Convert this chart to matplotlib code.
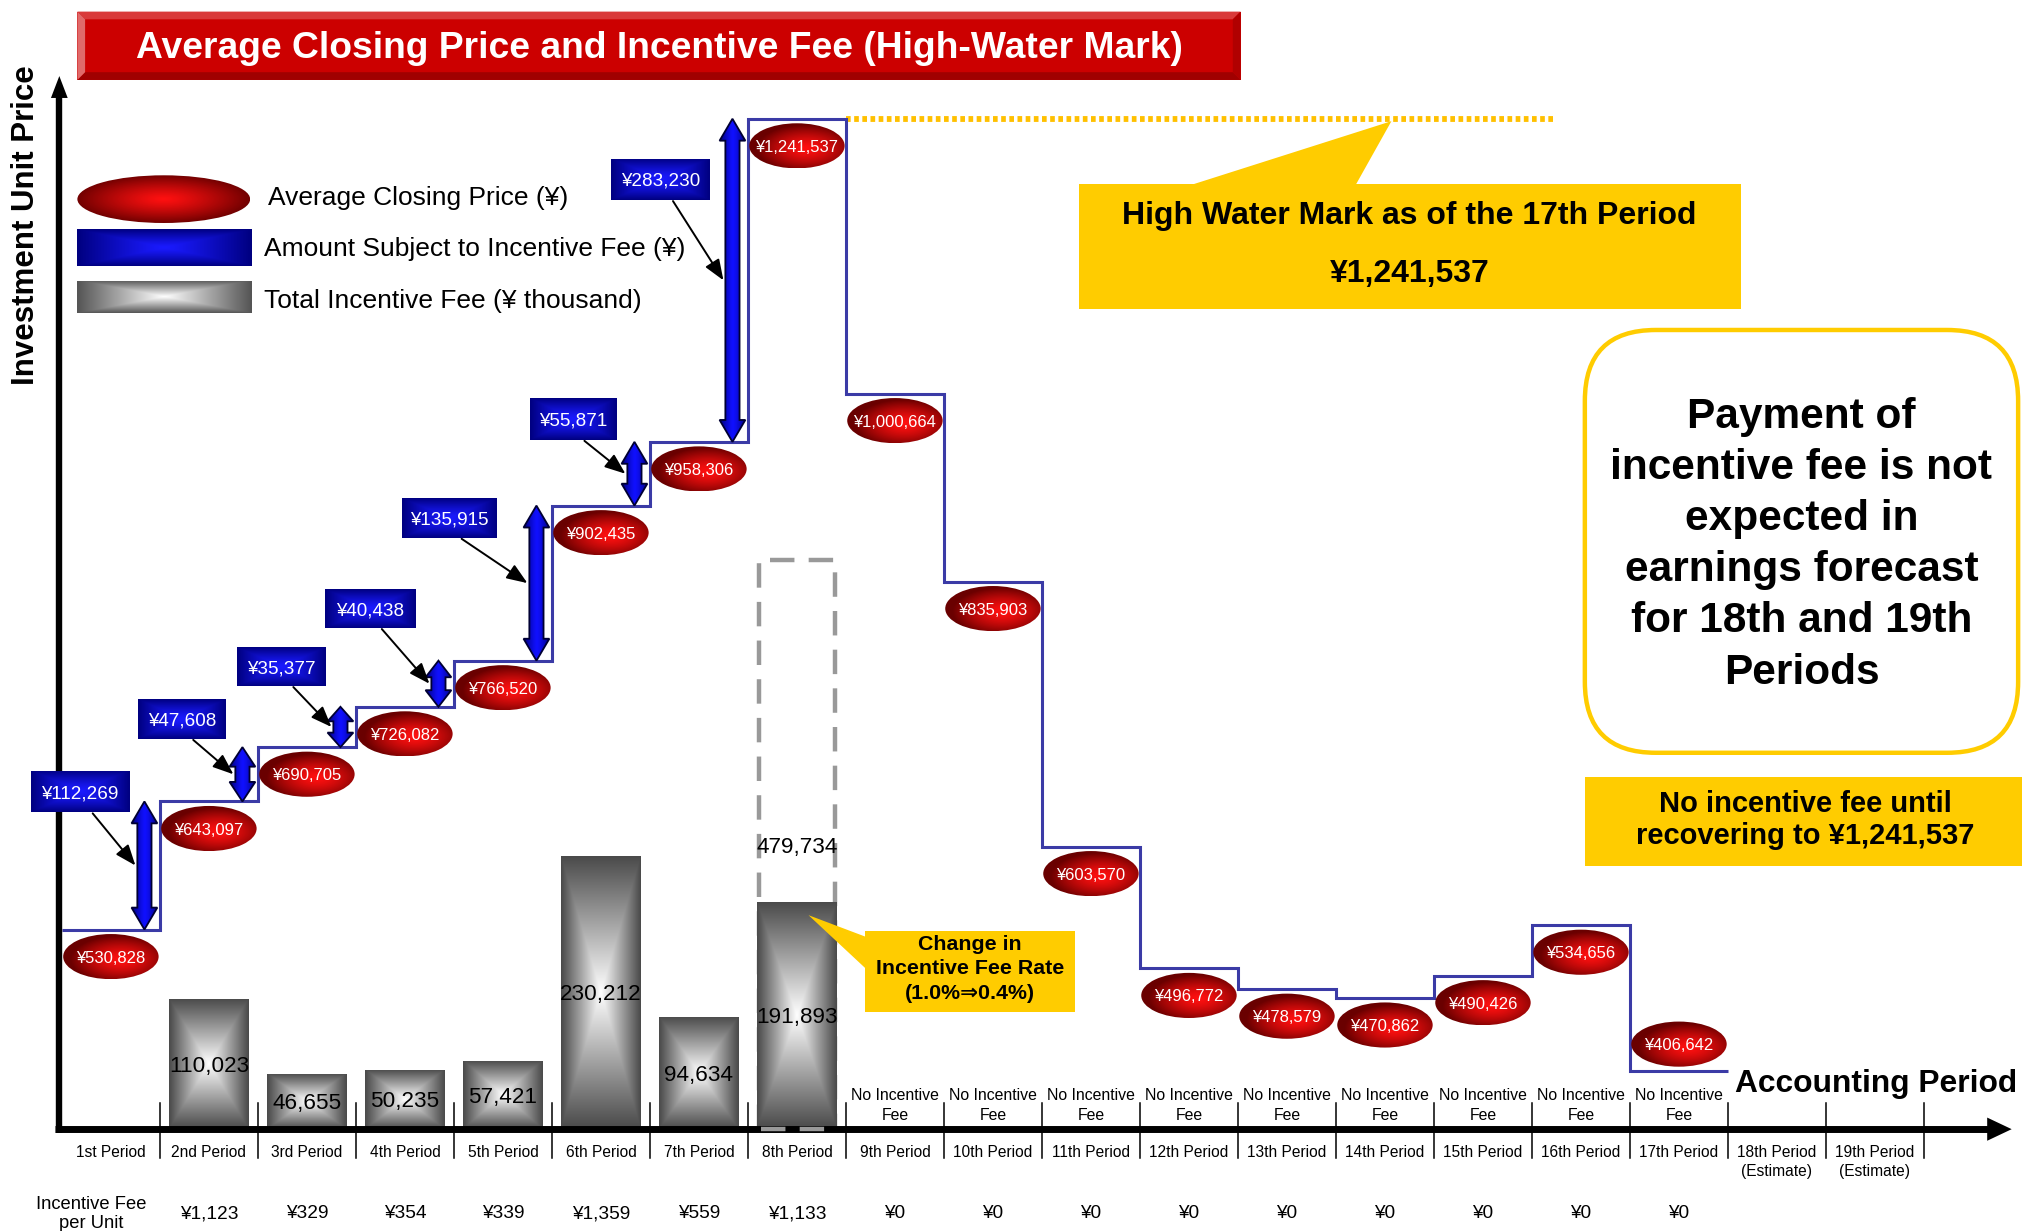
import numpy as np
import matplotlib
matplotlib.use("Agg")
import matplotlib.pyplot as plt
from matplotlib.patches import Ellipse, Rectangle, Polygon, FancyBboxPatch
from matplotlib.colors import to_rgb
import matplotlib.transforms as mtrans

plt.rcParams['font.family'] = ['Liberation Sans', 'DejaVu Sans']

# ---------------- data ----------------
period_labels = ['1st Period', '2nd Period', '3rd Period', '4th Period', '5th Period',
                 '6th Period', '7th Period', '8th Period', '9th Period', '10th Period',
                 '11th Period', '12th Period', '13th Period', '14th Period', '15th Period',
                 '16th Period', '17th Period', '18th Period\n(Estimate)', '19th Period\n(Estimate)']
avg_price = [530828, 643097, 690705, 726082, 766520, 902435, 958306, 1241537,
             1000664, 835903, 603570, 496772, 478579, 470862, 490426, 534656, 406642]
amount_subject = [112269, 47608, 35377, 40438, 135915, 55871, 283230]   # periods 1->2 ... 7->8
fee_periods = [2, 3, 4, 5, 6, 7, 8]
total_fee = [110023, 46655, 50235, 57421, 230212, 94634, 191893]        # ¥ thousand
fee_before_rate_change = 479734                                          # 8th period, at 1.0%
fee_per_unit = [None, 1123, 329, 354, 339, 1359, 559, 1133, 0, 0, 0, 0, 0, 0, 0, 0, 0]
no_fee_periods = [9, 10, 11, 12, 13, 14, 15, 16, 17]
high_water_mark = 1241537

# ---------------- layout (design units = 1568 x 955 canvas) ----------------
W, H = 1568, 955
COL0, COLW = 48, 76                      # left edge of 1st period column, column width
def px2x(px):
    return 0.5 + (px - COL0) / COLW
PRICE_PX = 0.000885                      # px per yen
def py2price(py):
    return 400000 + (836.9 - py) / PRICE_PX
FEE_PX = 0.00092                         # px per thousand yen
AXIS_Y = 876
def py2fee(py):
    return (AXIS_Y - py) / FEE_PX
TY = 1.8                                 # small vertical nudge for centred text

fig = plt.figure(figsize=(20.22, 12.31), dpi=100)
bx = fig.add_axes([0, 0, 1, 1])
ax = fig.add_axes([0, 0, 1, 1])
ov = fig.add_axes([0, 0, 1, 1])
for a in (bx, ax, ov):
    a.axis('off')
    a.set_autoscale_on(False)
XL = (px2x(0), px2x(W))
bx.set_xlim(XL); bx.set_ylim(py2fee(H), py2fee(0))
ax.set_xlim(XL); ax.set_ylim(py2price(H), py2price(0))
ov.set_xlim(0, W); ov.set_ylim(H, 0)

def lerp_img(t, c0, c1):
    c0 = np.array(to_rgb(c0)); c1 = np.array(to_rgb(c1))
    t = np.clip(t, 0, 1)[..., None]
    return c0 * (1 - t) + c1 * t

def rect_grad(c_center, c_edge, nx=120, ny=120, power=1.0):
    u = np.linspace(-1, 1, nx); v = np.linspace(-1, 1, ny)
    U, V = np.meshgrid(u, v)
    t = np.maximum(np.abs(U), np.abs(V)) ** power
    return lerp_img(t, c_center, c_edge)

def radial_grad(c_center, c_edge, cx=0.2, cy=0.15, n=120, power=1.4):
    u = np.linspace(-1, 1, n)
    U, V = np.meshgrid(u, u)
    r = np.sqrt((U - cx) ** 2 + (V - cy) ** 2) / 1.05
    return lerp_img(r ** power, c_center, c_edge)

def hgrad(c_center, c_edge, n=60):
    u = np.linspace(-1, 1, n)
    U, V = np.meshgrid(u, np.zeros(2))
    return lerp_img(np.abs(U) ** 1.3, c_center, c_edge)

def grad_patch(axis, patch, img, extent, z):
    patch.set_facecolor('none')
    axis.add_patch(patch)
    im = axis.imshow(img, extent=extent, aspect='auto', interpolation='bilinear', zorder=z)
    im.set_clip_path(patch)
    return im

RED_C, RED_E = '#ff1010', '#6a0000'
BLUE_C, BLUE_E = '#1a1aff', '#000080'

# ---------------- title ----------------
tx0, ty0, tx1, ty1 = 60, 9, 962, 62
ov.add_patch(Rectangle((tx0, ty0), tx1 - tx0, ty1 - ty0, fc='#cc0000', ec='none', zorder=2))
b = 6
ov.add_patch(Polygon([(tx0, ty0), (tx1, ty0), (tx1 - b, ty0 + b), (tx0 + b, ty0 + b)], fc='#d93a3a', ec='none', zorder=3))
ov.add_patch(Polygon([(tx0, ty1), (tx1, ty1), (tx1 - b, ty1 - b), (tx0 + b, ty1 - b)], fc='#a00000', ec='none', zorder=3))
ov.add_patch(Polygon([(tx0, ty0), (tx0 + b, ty0 + b), (tx0 + b, ty1 - b), (tx0, ty1)], fc='#e06a6a', ec='none', zorder=3))
ov.add_patch(Polygon([(tx1, ty0), (tx1 - b, ty0 + b), (tx1 - b, ty1 - b), (tx1, ty1)], fc='#b00000', ec='none', zorder=3))
ov.text(511, 36 + TY, 'Average Closing Price and Incentive Fee (High-Water Mark)', color='white',
        fontsize=26.8, fontweight='bold', ha='center', va='center', zorder=4)

# ---------------- axes arrows ----------------
ov.plot([46, 46], [AXIS_Y + 3, 72], color='black', lw=4.6, solid_capstyle='butt', zorder=5)
ov.add_patch(Polygon([(46, 59), (52.5, 76), (39.5, 76)], fc='black', ec='none', zorder=5))
ov.text(20, 175, 'Investment Unit Price', rotation=90, fontsize=22.5, fontweight='bold',
        ha='center', va='center')

# ---------------- period separators / labels ----------------
xb = mtrans.blended_transform_factory(ax.transData, ov.transData)
edges = np.arange(1.5, len(period_labels) + 0.6, 1.0)
for e in edges:
    ov.plot([e, e], [856, 898], color='black', lw=1.1, transform=xb, zorder=4)
for i, lab in enumerate(period_labels, start=1):
    ov.text(i, 888.5, lab, transform=xb, ha='center', va='top', fontsize=11.2, linespacing=1.3)
for p in no_fee_periods:
    ov.text(p, 856.5 + 1, 'No Incentive\nFee', transform=xb, ha='center', va='center',
            fontsize=11.4, linespacing=1.4)
ov.text(71, 940 + TY, 'Incentive Fee\nper Unit', ha='center', va='center', fontsize=13.2, linespacing=1.15)
for i, v in enumerate(fee_per_unit, start=1):
    if v is None:
        continue
    ov.text(i, 940 + TY, '¥{:,}'.format(v), transform=xb, ha='center', va='center', fontsize=13.8)

# ---------------- fee bars (¥ thousand) ----------------
BW = 62 / COLW
x8 = 8
dash_kw = dict(color='#999999', lw=3.2, linestyle=(0, (5.5, 3.2)), zorder=1)
bx.plot([x8 - BW / 2 + 0.02, x8 - BW / 2 + 0.02, x8 + BW / 2 - 0.02, x8 + BW / 2 - 0.02],
        [0, fee_before_rate_change, fee_before_rate_change, 0], **dash_kw)
bx.text(x8, fee_before_rate_change / 2 - TY / FEE_PX, '{:,}'.format(fee_before_rate_change), ha='center',
        va='center', fontsize=16.2, zorder=6)
for p, v in zip(fee_periods, total_fee):
    r = Rectangle((p - BW / 2, 0), BW, v, ec='none')
    grad_patch(bx, r, rect_grad('#ffffff', '#4a4a4a', power=1.0), [p - BW / 2, p + BW / 2, 0, v], 2)
    bx.text(p, v / 2 - TY / FEE_PX, '{:,}'.format(v), ha='center', va='center', fontsize=16.2, zorder=6)
# x-axis on top of bars
bx.plot([px2x(43), px2x(1542)], [0, 0], color='black', lw=5, solid_capstyle='butt', zorder=7)
bx.add_patch(Polygon([(px2x(1560), 0), (px2x(1541), py2fee(AXIS_Y - 9)), (px2x(1541), py2fee(AXIS_Y + 9))],
                     fc='black', ec='none', zorder=7))
bx.plot([x8 - BW / 2 + 0.04, x8 + BW / 2 - 0.02], [0, 0], color='#999999', lw=3.2,
        linestyle=(0, (5.5, 3.2)), zorder=8)

# ---------------- price step line ----------------
price_edges = np.arange(0.5, len(avg_price) + 1.0, 1.0)
ax.stairs(avg_price, price_edges, baseline=None, color='#3b3ba6', lw=2.2, zorder=3)

# high-water mark dotted line
ax.plot([8.5, px2x(1205)], [high_water_mark, high_water_mark], color='#ffc000', lw=4.2,
        linestyle=(0, (0.8, 0.6)), zorder=2)

# ---------------- double arrows for amount subject to fee ----------------
def double_arrow(xc, y0, y1):
    sw, hw = 5.5 / COLW, 10 / COLW
    span_px = (y1 - y0) * PRICE_PX
    hl = min(17, 0.36 * span_px) / PRICE_PX
    pts = [(xc, y0), (xc + hw, y0 + hl), (xc + sw, y0 + hl), (xc + sw, y1 - hl), (xc + hw, y1 - hl),
           (xc, y1), (xc - hw, y1 - hl), (xc - sw, y1 - hl), (xc - sw, y0 + hl), (xc - hw, y0 + hl)]
    poly = Polygon(pts, closed=True)
    grad_patch(ax, poly, hgrad('#1010ff', '#00007a'), [xc - hw, xc + hw, y0, y1], 4)
    ax.add_patch(Polygon(pts, closed=True, fc='none', ec='#000033', lw=1.3, zorder=5))

box_px = [(24, 598, 100, 630), (107, 542, 175, 573), (184, 502, 253, 532), (252, 457, 322, 487),
          (312, 386, 385, 417), (411, 309, 478, 341), (474, 123, 550, 155)]
for k, amt in enumerate(amount_subject):
    p = k + 1
    xc = p + 0.5 - 12 / COLW
    y0, y1 = avg_price[k], avg_price[k] + amt
    double_arrow(xc, y0, y1)
    bx0, by0, bx1, by1 = box_px[k]
    rr = Rectangle((bx0, by0), bx1 - bx0, by1 - by0, ec='none')
    grad_patch(ov, rr, rect_grad(BLUE_C, BLUE_E, power=1.3), [bx0, bx1, by1, by0], 6)
    ov.text((bx0 + bx1) / 2, (by0 + by1) / 2 + TY, '¥{:,}'.format(amt), color='white', fontsize=13.6,
            ha='center', va='center', zorder=7)
    sx = bx0 + 0.63 * (bx1 - bx0)
    ax.annotate('', xy=(xc - 7 / COLW, (y0 + y1) / 2), xycoords='data',
                xytext=(sx, by1 + 1), textcoords=ov.transData,
                arrowprops=dict(arrowstyle='-|>,head_length=0.9,head_width=0.35', color='black', lw=1.4,
                                shrinkA=0, shrinkB=0, mutation_scale=14), zorder=6)

# ---------------- price ellipses ----------------
EW, EH = 74 / COLW, 35 / PRICE_PX
OFF = 21 / PRICE_PX
for i, v in enumerate(avg_price, start=1):
    cy = v - OFF if i != len(avg_price) else v + OFF
    el = Ellipse((i, cy), EW, EH)
    grad_patch(ax, el, radial_grad(RED_C, RED_E), [i - EW / 2, i + EW / 2, cy - EH / 2, cy + EH / 2], 6)
    ax.text(i, cy - 1.2 / PRICE_PX, '¥{:,}'.format(v), color='white', fontsize=12, ha='center',
            va='center', zorder=7)

# ---------------- legend ----------------
le = Ellipse((127, 154.5), 134, 37)
grad_patch(ov, le, radial_grad(RED_C, RED_E, cx=0.0, cy=0.0, power=1.2), [60, 194, 173, 136], 3)
lb = Rectangle((60, 178), 135, 28)
grad_patch(ov, lb, rect_grad(BLUE_C, BLUE_E, power=1.2), [60, 195, 206, 178], 3)
lg = Rectangle((60, 218), 135, 25)
grad_patch(ov, lg, rect_grad('#ffffff', '#555555', power=1.0), [60, 195, 243, 218], 3)
ov.text(208, 152 + TY, 'Average Closing Price (¥)', fontsize=19, va='center', ha='left')
ov.text(205, 191 + TY, 'Amount Subject to Incentive Fee (¥)', fontsize=19, va='center', ha='left')
ov.text(205, 232 + TY, 'Total Incentive Fee (¥ thousand)', fontsize=19, va='center', ha='left')

# ---------------- callouts ----------------
YEL = '#ffcc00'
ov.add_patch(Rectangle((837, 143), 513, 97, fc=YEL, ec='none', zorder=3))
ov.add_patch(Polygon([(922, 144), (1079, 94), (1051, 144)], fc=YEL, ec='none', zorder=3))
ov.text(1093, 166 + TY, 'High Water Mark as of the 17th Period', fontsize=23, fontweight='bold',
        ha='center', va='center', zorder=4)
ov.text(1093, 211 + TY, '¥{:,}'.format(high_water_mark), fontsize=23, fontweight='bold',
        ha='center', va='center', zorder=4)

ov.add_patch(Rectangle((671, 722), 163, 63, fc=YEL, ec='none', zorder=3))
ov.add_patch(Polygon([(627, 710), (672, 727), (672, 752)], fc=YEL, ec='none', zorder=3))
ov.text(752, 751 + 0.5, 'Change in\nIncentive Fee Rate\n(1.0%⇒0.4%)', fontsize=15.4, fontweight='bold',
        ha='center', va='center', linespacing=1.36, zorder=4)

ov.add_patch(FancyBboxPatch((1229, 256), 336, 328, boxstyle='round,pad=0,rounding_size=55',
                            fc='white', ec=YEL, lw=3.2, zorder=3))
ov.text(1397, 422.5, 'Payment of\nincentive fee is not\nexpected in\nearnings forecast\nfor 18th and 19th\nPeriods',
        fontsize=30.5, fontweight='bold', ha='center', va='center', linespacing=1.36, zorder=4)

ov.add_patch(Rectangle((1229, 603), 339, 69, fc=YEL, ec='none', zorder=3))
ov.text(1400, 634 + TY, 'No incentive fee until\nrecovering to ¥{:,}'.format(high_water_mark), fontsize=21,
        fontweight='bold', ha='center', va='center', linespacing=1.18, zorder=4)

ov.text(1455, 839 + TY, 'Accounting Period', fontsize=22.9, fontweight='bold', ha='center', va='center', zorder=4)

# re-assert limits
bx.set_xlim(XL); bx.set_ylim(py2fee(H), py2fee(0))
ax.set_xlim(XL); ax.set_ylim(py2price(H), py2price(0))
ov.set_xlim(0, W); ov.set_ylim(H, 0)

fig.savefig('out.png', dpi=100, facecolor='white')
